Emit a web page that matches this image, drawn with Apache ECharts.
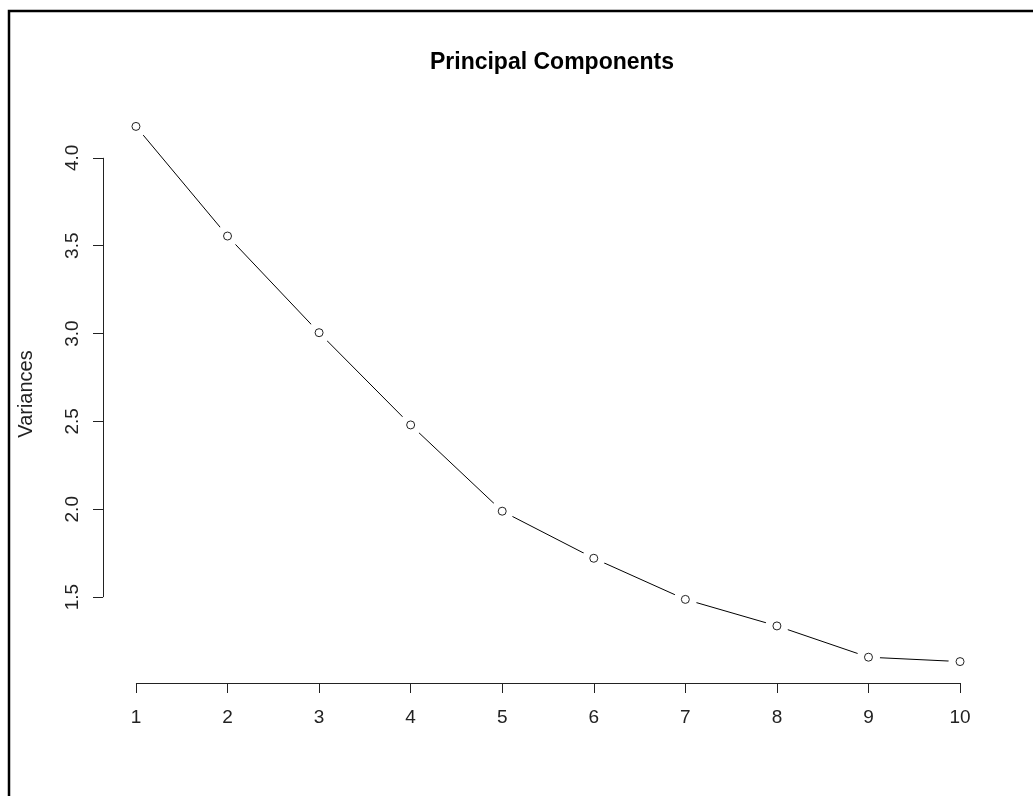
<!DOCTYPE html>
<html>
<head>
<meta charset="utf-8">
<script src="https://cdn.jsdelivr.net/npm/echarts@6/dist/echarts.min.js"></script>
<style>
html,body{margin:0;padding:0;background:#fff;}
#chart{width:1033px;height:796px;}
</style>
</head>
<body>
<div id="chart"></div>
<script>
// Data
var components = [1, 2, 3, 4, 5, 6, 7, 8, 9, 10];
var variances = [4.179, 3.555, 3.005, 2.480, 1.989, 1.721, 1.487, 1.336, 1.158, 1.133];
var xTicks = [1, 2, 3, 4, 5, 6, 7, 8, 9, 10];
var yTicks = [1.5, 2.0, 2.5, 3.0, 3.5, 4.0];
var titleText = 'Principal Components';
var yName = 'Variances';

// R-style axis ranges (data range extended by 4%)
var xMinD = Math.min.apply(null, components), xMaxD = Math.max.apply(null, components);
var yMinD = Math.min.apply(null, variances), yMaxD = Math.max.apply(null, variances);
var xExt = 0.04 * (xMaxD - xMinD), yExt = 0.04 * (yMaxD - yMinD);
var xLo = xMinD - xExt, xHi = xMaxD + xExt;
var yLo = yMinD - yExt, yHi = yMaxD + yExt;

var pts = components.map(function (c, i) { return [c, variances[i]]; });
var FONT = '"Liberation Sans", Arial, sans-serif';

var chart = echarts.init(document.getElementById('chart'), null, {renderer: 'canvas'});
chart.setOption({
  backgroundColor: '#fff',
  animation: false,
  graphic: [{
    type: 'polyline',
    shape: {points: [[9, 800], [9, 11], [1040, 11]]},
    style: {stroke: '#000', lineWidth: 2.5, fill: null},
    silent: true
  }],
  title: {
    text: titleText,
    left: 547,
    top: 46,
    textAlign: 'center',
    textStyle: {fontFamily: FONT, fontWeight: 'bold', fontSize: 23, color: '#000'}
  },
  grid: {left: 103, right: 40, top: 105, bottom: 113, containLabel: false},
  xAxis: {
    type: 'value',
    min: xLo, max: xHi,
    splitLine: {show: false},
    axisLine: {show: false},
    axisTick: {show: true, length: 10, customValues: xTicks, lineStyle: {color: '#222', width: 1}},
    axisLabel: {customValues: xTicks, margin: 25, fontFamily: FONT, fontSize: 19, color: '#222',
      formatter: function (v) { return String(v); }}
  },
  yAxis: {
    type: 'value',
    min: yLo, max: yHi,
    name: yName,
    nameLocation: 'middle',
    nameGap: 67,
    nameRotate: 90,
    nameTextStyle: {fontFamily: FONT, fontSize: 20, color: '#222'},
    splitLine: {show: false},
    axisLine: {show: false},
    axisTick: {show: true, length: 10, customValues: yTicks, lineStyle: {color: '#222', width: 1}},
    axisLabel: {customValues: yTicks, rotate: 90, margin: 21, fontFamily: FONT, fontSize: 19, color: '#222',
      formatter: function (v) { return v.toFixed(1); }}
  },
  series: [
    {
      type: 'line',
      data: pts,
      showSymbol: false,
      symbol: 'none',
      lineStyle: {color: '#000', width: 1},
      silent: true,
      z: 2,
      markLine: {
        silent: true,
        symbol: ['none', 'none'],
        label: {show: false},
        lineStyle: {color: '#222', width: 1, type: 'solid'},
        data: [
          [{coord: [xTicks[0], yLo]}, {coord: [xTicks[xTicks.length - 1], yLo]}],
          [{coord: [xLo, yTicks[0]]}, {coord: [xLo, yTicks[yTicks.length - 1]]}]
        ]
      }
    },
    {
      type: 'scatter',
      data: pts,
      symbol: 'circle',
      symbolSize: 23,
      itemStyle: {color: '#fff', opacity: 1},
      silent: true,
      z: 3
    },
    {
      type: 'scatter',
      data: pts,
      symbol: 'circle',
      symbolSize: 8,
      itemStyle: {color: '#fff', borderColor: '#222', borderWidth: 1, opacity: 1},
      silent: true,
      z: 4
    }
  ]
});
</script>
</body>
</html>
